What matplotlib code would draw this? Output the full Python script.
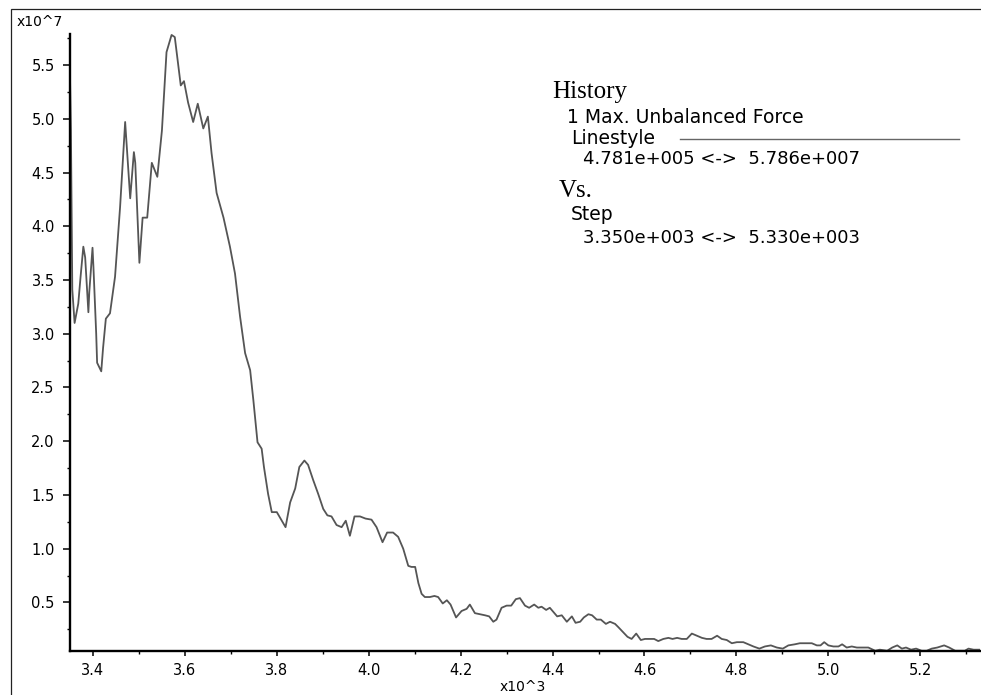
import matplotlib
matplotlib.use("Agg")
import matplotlib.pyplot as plt
from matplotlib.ticker import MultipleLocator, FormatStrFormatter
from matplotlib.patches import Rectangle
from matplotlib.lines import Line2D
import numpy as np

# Max. unbalanced force history
steps = [3350, 3352, 3355, 3360, 3368, 3373, 3379, 3383, 3390, 3392,
         3399, 3401, 3407, 3409, 3418, 3422, 3428, 3437, 3448, 3459,
         3470, 3481, 3489, 3492, 3501, 3508, 3518, 3528, 3540, 3550,
         3560, 3571, 3578, 3591, 3598, 3607, 3618, 3628, 3640, 3650,
         3658, 3669, 3684, 3698, 3709, 3720, 3731, 3742, 3749, 3758,
         3767, 3772, 3781, 3789, 3800, 3811, 3819, 3829, 3840, 3849,
         3860, 3868, 3879, 3890, 3901, 3910, 3919, 3930, 3941, 3950,
         3959, 3969, 3981, 3993, 4006, 4017, 4030, 4040, 4053, 4064,
         4075, 4086, 4093, 4101, 4108, 4115, 4122, 4133, 4143, 4151,
         4161, 4170, 4178, 4190, 4202, 4213, 4220, 4231, 4242, 4253,
         4262, 4271, 4278, 4289, 4300, 4310, 4320, 4329, 4340, 4349,
         4360, 4369, 4376, 4386, 4394, 4402, 4410, 4420, 4431, 4442,
         4450, 4460, 4468, 4478, 4486, 4496, 4505, 4516, 4525, 4536,
         4543, 4554, 4563, 4572, 4582, 4592, 4601, 4612, 4621, 4630,
         4641, 4652, 4661, 4671, 4681, 4692, 4703, 4714, 4725, 4735,
         4746, 4758, 4768, 4779, 4790, 4801, 4815, 4826, 4837, 4850,
         4862, 4875, 4888, 4901, 4913, 4927, 4938, 4953, 4964, 4975,
         4983, 4991, 5000, 5011, 5022, 5030, 5040, 5051, 5062, 5076,
         5087, 5102, 5112, 5128, 5139, 5150, 5160, 5169, 5180, 5191,
         5203, 5214, 5225, 5237, 5252, 5263, 5276, 5287, 5297, 5305,
         5316, 5330]

force_e7 = [5.39, 4.89, 3.41, 3.10, 3.28, 3.53, 3.81, 3.71, 3.20, 3.39,
            3.80, 3.62, 3.00, 2.73, 2.65, 2.87, 3.14, 3.19, 3.53, 4.18,
            4.97, 4.26, 4.69, 4.59, 3.66, 4.08, 4.08, 4.59, 4.46, 4.89,
            5.62, 5.78, 5.76, 5.31, 5.35, 5.15, 4.97, 5.14, 4.91, 5.02,
            4.68, 4.31, 4.08, 3.81, 3.56, 3.16, 2.82, 2.66, 2.38, 1.99,
            1.93, 1.76, 1.51, 1.34, 1.34, 1.26, 1.20, 1.43, 1.56, 1.76,
            1.82, 1.78, 1.64, 1.51, 1.37, 1.31, 1.30, 1.22, 1.20, 1.26,
            1.12, 1.30, 1.30, 1.28, 1.27, 1.20, 1.06, 1.15, 1.15, 1.11,
            1.00, 0.84, 0.83, 0.83, 0.68, 0.58, 0.55, 0.55, 0.56, 0.55,
            0.49, 0.52, 0.48, 0.36, 0.42, 0.44, 0.48, 0.40, 0.39, 0.38,
            0.37, 0.32, 0.34, 0.45, 0.47, 0.47, 0.53, 0.54, 0.47, 0.45,
            0.48, 0.45, 0.46, 0.43, 0.45, 0.41, 0.37, 0.38, 0.32, 0.37,
            0.31, 0.32, 0.36, 0.39, 0.38, 0.34, 0.34, 0.30, 0.32, 0.30,
            0.27, 0.22, 0.18, 0.16, 0.21, 0.15, 0.16, 0.16, 0.16, 0.14,
            0.16, 0.17, 0.16, 0.17, 0.16, 0.16, 0.21, 0.19, 0.17, 0.16,
            0.16, 0.19, 0.16, 0.15, 0.12, 0.13, 0.13, 0.11, 0.09, 0.07,
            0.09, 0.10, 0.08, 0.07, 0.10, 0.11, 0.12, 0.12, 0.12, 0.10,
            0.10, 0.13, 0.10, 0.09, 0.09, 0.11, 0.08, 0.09, 0.08, 0.08,
            0.08, 0.05, 0.06, 0.05, 0.08, 0.10, 0.07, 0.08, 0.06, 0.07,
            0.05, 0.05, 0.07, 0.08, 0.10, 0.08, 0.05, 0.05, 0.05, 0.07,
            0.06, 0.06]

step_min, step_max = 3.350e3, 5.330e3
force_min, force_max = 4.781e5, 5.786e7

steps = np.array(steps, dtype=float)
force = np.array(force_e7) * 1e7

W, H = 981, 695
fig = plt.figure(figsize=(W / 100, H / 100), dpi=100)
fig.patch.set_facecolor("white")

# outer frame
fig.patches.append(Rectangle((11 / W, -0.05), 1.2, 1 - 9 / H + 0.05,
                             transform=fig.transFigure, fill=False,
                             edgecolor="#222222", linewidth=0.9))

ax = fig.add_axes([70 / W, 1 - 651 / H, 910 / W, (651 - 34.3) / H])
ax.plot(steps / 1e3, force / 1e7, color="#555555", linewidth=1.3)
ax.set_xlim(step_min / 1e3, step_max / 1e3)
ax.set_ylim(force_min / 1e7, force_max / 1e7)

for s in ("top", "right"):
    ax.spines[s].set_visible(False)
for s in ("left", "bottom"):
    ax.spines[s].set_linewidth(1.7)
    ax.spines[s].set_color("black")

ax.xaxis.set_major_locator(MultipleLocator(0.2))
ax.xaxis.set_minor_locator(MultipleLocator(0.1))
ax.yaxis.set_major_locator(MultipleLocator(0.5))
ax.yaxis.set_minor_locator(MultipleLocator(0.25))
ax.xaxis.set_major_formatter(FormatStrFormatter("%.1f"))
ax.yaxis.set_major_formatter(FormatStrFormatter("%.1f"))
ax.tick_params(axis="y", which="major", direction="out", length=5, width=1.1, pad=6,
               labelsize=10.5, colors="black")
ax.tick_params(axis="y", which="minor", direction="out", length=2.5, width=1.0)
ax.tick_params(axis="x", which="major", direction="out", length=3.5, width=1.1, pad=5,
               labelsize=10.5, colors="black")
ax.tick_params(axis="x", which="minor", direction="out", length=2, width=1.0)
for lab in ax.get_xticklabels() + ax.get_yticklabels():
    lab.set_family("DejaVu Sans")

def ftext(x, y, s, **kw):
    fig.text(x / W, 1 - y / H, s, va="baseline", ha="left", **kw)

ftext(17, 26, "x10^7", fontsize=10, family="DejaVu Sans")
ftext(500, 691, "x10^3", fontsize=10, family="DejaVu Sans")

# legend block
serif = "Liberation Serif"
sans = "DejaVu Sans"
ftext(552, 97.7, "History", fontsize=18, family=serif)
ftext(566.7, 123.3, "1 Max. Unbalanced Force", fontsize=13.5, family=sans)
ftext(570.7, 144, "Linestyle", fontsize=13.5, family=sans)
fig.lines.append(Line2D([680 / W, 959 / W], [1 - 138.7 / H, 1 - 138.7 / H],
                        transform=fig.transFigure, color="#666666", linewidth=1.0))
ftext(583.3, 164, "4.781e+005 <->  5.786e+007", fontsize=13, family=sans)
ftext(558.3, 196.7, "Vs.", fontsize=18, family=serif)
ftext(570.7, 220, "Step", fontsize=13.5, family=sans)
ftext(583.3, 242.7, "3.350e+003 <->  5.330e+003", fontsize=13, family=sans)

fig.savefig("out.png", dpi=100)
